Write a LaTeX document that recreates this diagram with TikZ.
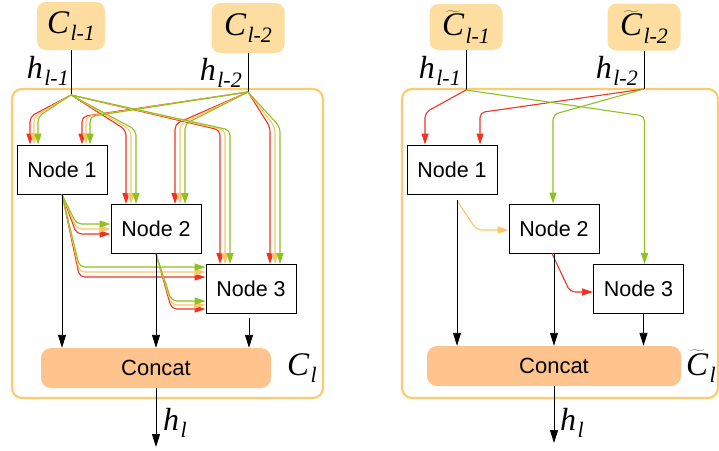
\documentclass[tikz,border=0pt]{standalone}
\usepackage{fontspec}
\setmainfont{Liberation Sans}
\newfontfamily\tms{Liberation Serif}
\usetikzlibrary{arrows.meta,calc,positioning}

\definecolor{infill}{RGB}{253,221,160}
\definecolor{catfill}{RGB}{255,196,142}
\definecolor{cellline}{RGB}{254,204,110}
\definecolor{opred}{RGB}{240,52,36}
\definecolor{oporange}{RGB}{253,196,104}
\definecolor{opgreen}{RGB}{142,194,30}

% symbol with lowered index
\newcommand{\sym}[2]{#1\kern1.5pt\raisebox{-0.22em}{\fontsize{22}{24}\selectfont #2}}

\begin{document}
\begin{tikzpicture}[
        x=1pt, y=-1pt,
        cellbox/.style={draw=cellline, line width=2.2pt, rounded corners=10pt},
        inbox/.style={rectangle, rounded corners=9pt, fill=infill, inner sep=0pt, font=\tms\itshape\fontsize{33}{36}\selectfont},
        opnode/.style={rectangle, draw=black, line width=0.9pt, fill=white, minimum width=90pt, minimum height=49pt, inner sep=0pt, font=\fontsize{21.5}{24}\selectfont},
        catbox/.style={rectangle, rounded corners=10pt, fill=catfill, minimum height=40pt, inner sep=0pt, font=\fontsize{22}{24}\selectfont},
        symlab/.style={inner sep=0pt, font=\tms\itshape\fontsize{33}{36}\selectfont},
        hlab/.style={inner sep=0pt, font=\tms\itshape\fontsize{32}{34}\selectfont},
        op/.style={line width=1.1pt, rounded corners=5pt, -{Triangle[length=11pt,width=7pt]}},
        flow/.style={line width=0.9pt, -{Triangle[length=13pt,width=8pt]}}
    ]
    \useasboundingbox (0,0) rectangle (719,450);

    % cells
    \draw[cellbox] (12,89) rectangle (323,398);
    \draw[cellbox] (402,89) rectangle (718,398);

    % left cell: inputs
    \node[inbox, minimum width=68pt, minimum height=48pt] (cA1) at (71,26) {\sym{C}{l-1}};
    \node[inbox, minimum width=73pt, minimum height=50pt] (cA2) at (248,28) {\sym{C}{l-2}};
    \node[hlab, anchor=base east] (hA1) at (69,78) {\sym{h}{l-1}};
    \node[hlab, anchor=base east] (hA2) at (242,80) {\sym{h}{l-2}};
    \coordinate (sA1) at (71,95);
    \coordinate (sA2) at (248,92);
    \draw[line width=1pt] (cA1.south) -- (sA1);
    \draw[line width=1pt] (cA2.south) -- (sA2);

    % left cell: nodes
    \node[opnode] (a1) at (62,169.5) {Node 1};
    \node[opnode] (a2) at (156,229) {Node 2};
    \node[opnode] (a3) at (251,289) {Node 3};
    \node[catbox, minimum width=230pt] (aC) at (156,368) {Concat};
    \coordinate (aOut) at (156,447);
    \node[symlab, anchor=base west] (aCl) at (287,375) {\sym{C}{l}};
    \node[hlab, anchor=base west] (aHl) at (163,430) {\sym{h}{l}};

    % left cell: candidate operations
    \foreach \col [count=\k from -1] in {opred,oporange,opgreen}{
        \draw[op,\col] (sA1) -- ($(a1.north)+(-28+4*\k,-28)$) -- ($(a1.north)+(-28+4*\k,0)$);
        \draw[op,\col] (sA2) -- ($(a1.north)+(24+4*\k,-28)$) -- ($(a1.north)+(24+4*\k,0)$);
        \draw[op,\col] (sA1) -- ($(a2.north)+(-25+5*\k,-74)$) -- ($(a2.north)+(-25+5*\k,0)$);
        \draw[op,\col] (sA2) -- ($(a2.north)+(24+5*\k,-80)$) -- ($(a2.north)+(24+5*\k,0)$);
        \draw[op,\col] (sA1) -- ($(a3.north)+(-26+5*\k,-134)$) -- ($(a3.north)+(-26+5*\k,0)$);
        \draw[op,\col] (sA2) -- ($(a3.north)+(24+5*\k,-137)$) -- ($(a3.north)+(24+5*\k,0)$);
        \draw[op,\col] (a1.south) -- ($(a2.west)+(-34,-5*\k)$) -- ($(a2.west)+(0,-5*\k)$);
        \draw[op,\col] (a1.south) -- ($(a3.west)+(-126,-17-5*\k)$) -- ($(a3.west)+(0,-17-5*\k)$);
        \draw[op,\col] (a2.south) -- ($(a3.west)+(-34,16-4*\k)$) -- ($(a3.west)+(0,16-4*\k)$);
    }

    % left cell: outputs
    \draw[flow] (a1.south) -- (a1.south |- aC.north);
    \draw[flow] (a2.south) -- (a2.south |- aC.north);
    \draw[flow] ($(a3.south)+(-2,4)$) -- ($(a3.south |- aC.north)+(-2,0)$);
    \draw[flow] (aC.south) -- (aOut);

    % right cell: inputs
    \node[inbox, minimum width=73pt, minimum height=46pt] (cB1) at (466,27) {\sym{$\widetilde{\mbox{C}}$}{l-1}};
    \node[inbox, minimum width=73pt, minimum height=47pt] (cB2) at (644,27) {\sym{$\widetilde{\mbox{C}}$}{l-2}};
    \node[hlab, anchor=base east] (hB1) at (461,78) {\sym{h}{l-1}};
    \node[hlab, anchor=base east] (hB2) at (638,78) {\sym{h}{l-2}};
    \coordinate (sB1) at (466,90);
    \coordinate (sB2) at (644,89);
    \draw[line width=1pt] (cB1.south) -- (sB1);
    \draw[line width=1pt] (cB2.south) -- (sB2);

    % right cell: nodes
    \node[opnode] (b1) at (452,169.5) {Node 1};
    \node[opnode] (b2) at (554,228.5) {Node 2};
    \node[opnode] (b3) at (638.5,289) {Node 3};
    \node[catbox, minimum width=254pt] (bC) at (554,366) {Concat};
    \coordinate (bOut) at (554,443);
    \node[symlab, anchor=base west] (bCl) at (686,375) {\sym{$\widetilde{\mbox{C}}$}{l}};
    \node[hlab, anchor=base west] (bHl) at (560,430) {\sym{h}{l}};

    % right cell: chosen operations
    \draw[op,opred] (sB1) -- ($(b1.north)+(-27,-32)$) -- ($(b1.north)+(-27,0)$);
    \draw[op,opred] (sB2) -- ($(b1.north)+(28,-32)$) -- ($(b1.north)+(28,0)$);
    \draw[op,opgreen] (sB2) -- ($(b2.north)+(-1,-89)$) -- ($(b2.north)+(-1,0)$);
    \draw[op,opgreen] (sB1) -- ($(b3.north)+(6,-148)$) -- ($(b3.north)+(6,0)$);
    \draw[op,oporange] ($(b1.south)+(5,6)$) -- ($(b2.west)+(-32,1.5)$) -- ($(b2.west)+(0,1.5)$);
    \draw[op,opred] ($(b2.south)+(-2,0)$) -- ($(b3.west)+(-23,3)$) -- ($(b3.west)+(0,3)$);

    % right cell: outputs
    \draw[flow] ($(b1.south)+(5,6)$) -- ($(b1.south |- bC.north)+(5,0)$);
    \draw[flow] (b2.south) -- (b2.south |- bC.north);
    \draw[flow] ($(b3.south)+(5,0)$) -- ($(b3.south |- bC.north)+(5,0)$);
    \draw[flow] (bC.south) -- (bOut);

\end{tikzpicture}
\end{document}
